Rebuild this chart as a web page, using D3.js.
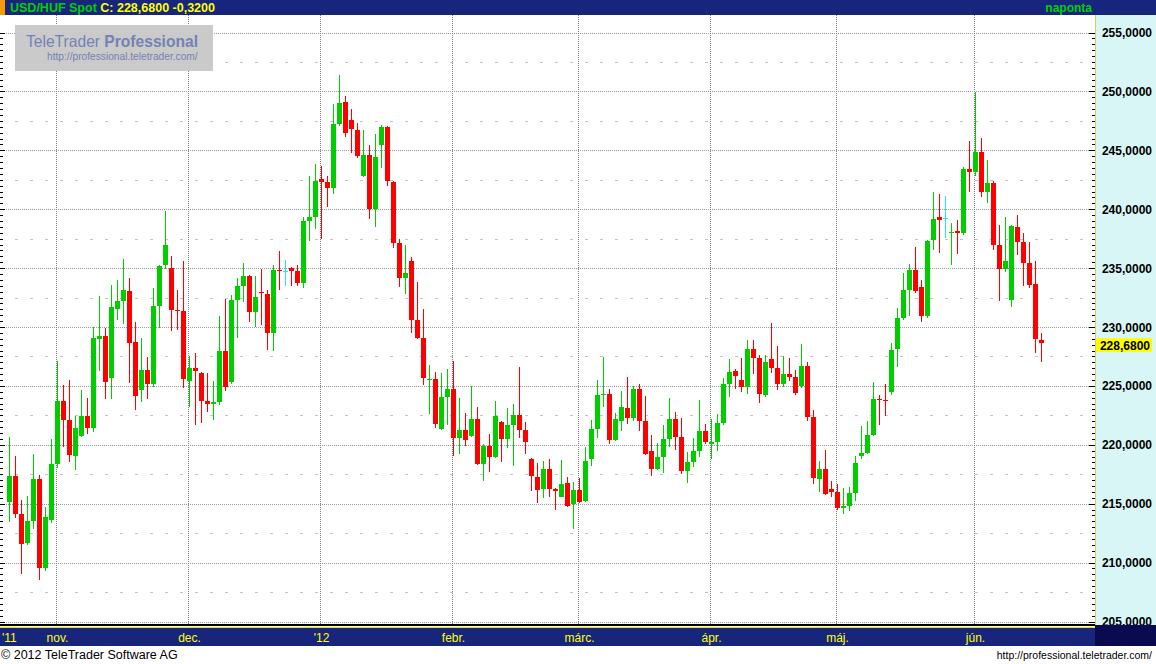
<!DOCTYPE html>
<html><head><meta charset="utf-8">
<script src="https://cdn.jsdelivr.net/npm/d3@7"></script>
<style>body{margin:0;background:#fff;overflow:hidden}svg{display:block}</style>
</head><body><svg id="c" width="1156" height="664"></svg>
<script>
// ---- data (USD/HUF daily OHLC, 2011-10-20 .. 2012-06-18, weekdays) ----
const firstDay = "2011-10-20", lastDay = "2012-06-18";
const open = [215.17,217.35,214.13,211.69,213.56,217.10,209.57,213.64,218.40,223.72,
222.11,219.07,220.77,222.45,221.45,229.01,229.24,225.70,231.53,232.21,
233.06,228.73,224.68,226.35,225.19,231.81,235.29,235.01,231.47,231.36,
225.44,226.52,226.10,223.72,223.49,223.66,227.96,225.36,232.32,233.51,
234.33,231.30,233.00,232.80,229.52,234.86,234.75,235.01,234.75,233.76,
239.02,239.36,242.56,242.31,241.82,247.26,249.10,247.57,246.72,242.84,
244.60,240.04,245.48,246.98,242.33,237.16,234.19,235.60,230.59,229.07,
225.53,225.59,221.37,224.08,224.74,220.60,221.26,220.77,222.19,218.40,
219.90,218.99,221.94,220.52,221.71,222.53,221.26,218.79,217.27,216.27,
217.95,216.25,215.59,216.76,215.00,216.16,215.26,218.82,221.37,224.25,
224.31,220.43,222.05,223.12,222.30,224.74,222.02,219.47,217.97,218.99,
220.52,222.19,220.66,217.80,218.57,219.50,221.17,220.09,220.26,221.88,
225.19,226.27,225.50,224.93,228.13,227.37,224.25,227.28,226.52,225.19,
226.01,225.76,225.02,226.69,222.36,217.12,217.95,216.25,215.99,214.66,
214.83,215.93,219.07,219.33,220.86,223.91,223.80,224.51,228.16,230.79,
233.17,234.84,233.40,230.96,237.41,239.34,239.25,238.00,238.15,238.00,
243.41,243.18,244.86,241.49,242.22,236.96,234.95,232.32,238.49,237.22,
235.43,233.65,228.90];
const high = [220.64,219.05,215.31,215.65,219.22,217.44,214.72,220.49,227.11,225.08,
225.50,222.45,224.65,223.97,229.97,232.63,229.92,233.57,233.99,235.77,
234.16,230.42,229.07,227.45,233.31,235.26,239.85,236.03,233.14,235.60,
227.54,227.79,226.18,226.10,225.42,230.93,232.38,232.72,234.16,235.43,
234.41,234.33,234.92,233.14,235.26,236.45,235.69,235.09,235.26,239.34,
242.82,243.84,243.67,242.82,248.93,251.39,249.61,248.51,247.32,246.72,
245.45,246.38,247.15,247.06,242.42,237.50,236.96,235.94,233.85,231.53,
226.77,226.18,226.10,226.43,227.11,223.97,222.70,224.99,223.21,220.07,
220.92,223.72,222.02,223.12,223.46,226.60,221.94,218.88,218.46,218.63,
218.79,216.30,218.71,217.27,216.84,217.18,219.81,222.11,225.50,227.43,
224.74,222.70,224.57,225.76,224.99,225.16,224.14,220.83,220.15,221.68,
223.97,222.78,222.28,219.39,220.58,223.80,221.77,222.19,222.62,225.67,
227.28,226.43,227.37,228.90,228.90,227.62,227.62,230.34,228.39,227.54,
227.37,226.35,228.56,227.03,222.95,218.63,219.56,216.93,216.67,216.33,
216.42,219.05,221.60,222.02,225.33,224.23,225.16,228.64,231.61,234.58,
235.35,236.79,233.99,237.39,241.46,241.29,241.12,238.83,239.08,243.58,
245.79,249.95,246.04,244.18,242.39,238.66,239.34,238.66,239.51,237.98,
237.22,235.60,229.49];
const low = [213.45,213.81,209.06,211.49,212.88,208.55,209.31,213.39,218.06,219.84,
218.57,217.89,220.69,220.94,221.11,226.29,223.91,223.91,230.59,230.26,
225.27,222.98,223.66,223.91,224.93,229.94,234.95,229.69,229.77,224.85,
223.23,221.71,221.88,222.81,222.13,223.40,224.59,225.19,229.09,232.15,
230.45,230.03,230.20,228.07,227.99,233.17,233.51,233.51,233.51,233.34,
237.33,238.35,237.50,240.21,241.32,247.09,246.15,244.80,244.37,242.76,
239.19,238.51,243.52,241.99,236.73,233.42,232.83,229.52,228.98,225.10,
222.64,221.45,221.28,221.71,219.07,219.24,219.92,220.69,218.31,216.95,
217.72,218.91,218.57,219.75,218.23,220.60,219.24,216.10,215.09,215.51,
215.59,214.49,215.59,214.75,212.88,215.09,215.17,218.23,220.60,223.23,
220.09,220.35,221.20,221.79,222.05,221.20,219.16,217.38,217.89,217.63,
219.84,219.58,217.55,216.78,218.14,218.99,220.09,218.82,219.50,221.71,
224.08,224.76,224.51,224.34,226.04,223.57,224.08,226.12,224.68,224.93,
225.44,224.25,224.85,222.05,216.70,216.02,215.76,215.59,214.49,214.15,
214.41,215.26,218.82,219.24,220.77,221.71,222.47,224.25,226.63,230.62,
230.96,232.91,230.45,230.79,236.56,236.31,237.58,235.29,236.22,237.83,
241.49,242.84,241.06,240.55,236.56,232.23,234.69,231.72,236.14,233.51,
233.34,227.82,227.05];
const close = [217.35,214.15,211.60,213.53,217.10,209.57,213.87,218.37,223.72,222.13,
219.16,221.43,222.45,221.45,229.07,229.24,225.36,231.70,232.21,233.14,
228.67,224.17,226.35,225.19,231.78,235.18,236.96,231.47,231.38,225.61,
226.52,226.29,223.74,223.49,223.66,227.96,224.93,232.29,233.48,234.33,
231.30,232.55,232.91,229.52,234.84,234.78,234.75,234.78,233.76,239.00,
239.34,242.39,242.33,241.82,247.23,249.02,246.49,246.83,244.54,244.60,
240.04,244.43,246.98,242.42,237.16,234.19,234.58,230.62,229.09,225.70,
225.59,221.79,224.06,224.74,220.60,221.26,220.43,222.19,218.40,219.90,
218.99,222.45,220.52,221.68,222.53,221.28,220.26,217.38,216.19,217.95,
216.27,216.10,216.67,214.83,216.16,215.17,218.63,221.34,224.23,224.31,
220.43,222.19,223.21,222.30,224.74,222.05,219.24,217.97,218.96,220.49,
222.19,220.69,217.80,218.54,219.47,221.17,220.26,220.24,221.85,225.16,
226.18,225.87,224.93,228.13,227.39,224.34,227.03,226.55,225.19,226.01,
225.78,224.42,226.69,222.39,217.21,217.95,215.85,216.02,214.66,214.83,
215.91,218.46,219.30,220.83,223.89,223.83,223.72,228.05,230.76,233.14,
234.84,233.08,230.96,237.30,239.17,239.11,239.25,238.06,238.00,243.41,
243.18,244.86,241.49,242.22,236.99,234.95,235.60,238.57,237.24,235.46,
233.59,229.00,228.68];
const yTicks = [205,210,215,220,225,230,235,240,245,250,255];
const monthStarts = ["2011-11-01","2011-12-01","2012-01-02","2012-02-01","2012-03-01","2012-04-02","2012-05-01","2012-06-01"];
const monthLabels = ["nov.","dec.","'12","febr.","márc.","ápr.","máj.","jún."];
const titleName = "USD/HUF Spot", titleQuote = "C: 228,6800 -0,3200", periodLabel = "naponta";
const lastLabel = "228,6800";

// ---- setup ----
const parse = d3.timeParse("%Y-%m-%d"), fmtKey = d3.timeFormat("%Y-%m-%d");
const dates = d3.timeDay.range(parse(firstDay), d3.timeDay.offset(parse(lastDay),1))
  .filter(d => d.getDay() !== 0 && d.getDay() !== 6).map(fmtKey);
const data = dates.map((d,i) => ({d, o:open[i], h:high[i], l:low[i], c:close[i]}));

const svg = d3.select("#c");
const FONT = "'Liberation Sans', Arial, sans-serif";
const NAVY = "#17267c", NAVY_D = "#0a0a50";
const PR = 1093, PT = 15, PB = 624;

const x = d3.scaleBand().domain(dates).range([6.5, 6.5 + dates.length*6]).paddingInner(1/6).paddingOuter(1/12);
const y = d3.scaleLinear().domain([205,255]).range([621.5, 32.5]);

svg.append("rect").attr("width",1156).attr("height",664).attr("fill","#fff");

const g = svg.append("g").attr("shape-rendering","crispEdges");

// minor gridlines (x.5 levels)
const halfLevels = d3.range(207.5, 255, 5);
g.selectAll(".hg2").data(halfLevels).join("line")
  .attr("x1",0).attr("x2",PR).attr("y1",d=>Math.round(y(d))+0.5).attr("y2",d=>Math.round(y(d))+0.5)
  .attr("stroke","#c4c4c4").attr("stroke-dasharray","3 12");
// major gridlines
g.selectAll(".hg").data(yTicks).join("line")
  .attr("x1",0).attr("x2",PR).attr("y1",d=>Math.round(y(d))+0.5).attr("y2",d=>Math.round(y(d))+0.5)
  .attr("stroke","#9a9a9a").attr("stroke-dasharray","1 1");
// month gridlines
g.selectAll(".vg").data(monthStarts).join("line")
  .attr("x1",d=>x(d)+1.5).attr("x2",d=>x(d)+1.5).attr("y1",PT).attr("y2",PB)
  .attr("stroke","#808080").attr("stroke-dasharray","1 1");

// logo
const logo = svg.append("g");
logo.append("rect").attr("x",15).attr("y",25).attr("width",198).attr("height",46).attr("fill","#cacaca");
const lt = logo.append("text").attr("x",26).attr("y",47).attr("font-family",FONT).attr("font-size",16.5).attr("fill","#7482b4")
  .attr("textLength",172).attr("lengthAdjust","spacingAndGlyphs");
lt.append("tspan").text("TeleTrader ");
lt.append("tspan").attr("font-weight","bold").text("Professional");
logo.append("text").attr("x",47).attr("y",60).attr("font-family",FONT).attr("font-size",10.2).attr("fill","#7482b4")
  .text("http://professional.teletrader.com/");

// axis ticks (left and right edges)
const tickVals = d3.range(205, 255.01, 0.5);
g.selectAll(".lt").data(tickVals).join("line")
  .attr("x1",0).attr("x2",d=>d%5===0?5:3).attr("y1",d=>Math.round(y(d))+0.5).attr("y2",d=>Math.round(y(d))+0.5)
  .attr("stroke","#000");
g.selectAll(".rt").data(tickVals).join("line")
  .attr("x1",d=>d%5===0?1089:1092).attr("x2",1095).attr("y1",d=>Math.round(y(d))+0.5).attr("y2",d=>Math.round(y(d))+0.5)
  .attr("stroke","#000");

// candles
const col = d => d.c > d.o ? "#00cc00" : (d.c < d.o ? "#ff0000" : "#22e8e8");
const cg = svg.append("g").attr("shape-rendering","crispEdges");
cg.selectAll(".wick").data(data).join("line")
  .attr("x1",d=>x(d.d)+2.5).attr("x2",d=>x(d.d)+2.5)
  .attr("y1",d=>Math.round(y(d.h))).attr("y2",d=>Math.round(y(d.l)))
  .attr("stroke",col);
cg.selectAll(".body").data(data).join("rect")
  .attr("x",d=>x(d.d)).attr("width",x.bandwidth())
  .attr("y",d=>Math.round(y(Math.max(d.o,d.c))))
  .attr("height",d=>Math.max(1, Math.round(y(Math.min(d.o,d.c))) - Math.round(y(Math.max(d.o,d.c)))))
  .attr("fill",col);

// right axis panel
svg.append("rect").attr("x",1095).attr("y",PT).attr("width",61).attr("height",PB-PT+1).attr("fill","#d8f6f6");
svg.append("line").attr("x1",1095.5).attr("x2",1095.5).attr("y1",PT).attr("y2",PB+1).attr("stroke","#d8cc5a").attr("shape-rendering","crispEdges");
svg.selectAll(".yl").data(yTicks).join("text")
  .attr("x",1152).attr("y",d=>y(d)+4.5).attr("text-anchor","end")
  .attr("font-family",FONT).attr("font-weight","bold").attr("font-size",12).attr("fill","#000")
  .text(d=>d3.format(".4f")(d).replace(".",","));
// last price marker
const lastY = y(close[close.length-1]);
svg.append("rect").attr("x",1096).attr("y",Math.round(lastY)-5).attr("width",56).attr("height",14).attr("fill","#ffff00");
svg.append("text").attr("x",1150).attr("y",Math.round(lastY)+6.5).attr("text-anchor","end")
  .attr("font-family",FONT).attr("font-weight","bold").attr("font-size",12).attr("fill","#000").text(lastLabel);

// top bar
svg.append("rect").attr("x",0).attr("y",0).attr("width",1156).attr("height",PT).attr("fill",NAVY);
svg.append("rect").attr("x",0).attr("y",0).attr("width",5).attr("height",PT).attr("fill","#f59a00");
const tt = svg.append("text").attr("x",10).attr("y",11.5).attr("font-family",FONT).attr("font-weight","bold").attr("font-size",12.5);
tt.append("tspan").attr("fill","#00d000").text(titleName + " ");
tt.append("tspan").attr("fill","#ffff00").text(titleQuote);
svg.append("text").attr("x",1092).attr("y",11.5).attr("text-anchor","end").attr("font-family",FONT).attr("font-weight","bold")
  .attr("font-size",12).attr("fill","#00d000").text(periodLabel);

// bottom time axis
const bg = svg.append("g").attr("shape-rendering","crispEdges");
bg.append("rect").attr("x",0).attr("y",PB).attr("width",1095).attr("height",2).attr("fill","#000");
bg.append("rect").attr("x",0).attr("y",PB+2).attr("width",1095).attr("height",1).attr("fill","#ffffff");
bg.append("rect").attr("x",0).attr("y",PB+3).attr("width",1095).attr("height",1).attr("fill","#e8e000");
bg.append("rect").attr("x",0).attr("y",PB+4).attr("width",1095).attr("height",18).attr("fill",NAVY);
bg.append("rect").attr("x",1095).attr("y",PB+1).attr("width",61).attr("height",21).attr("fill",NAVY_D);
const xl = svg.append("g").attr("font-family",FONT).attr("font-size",12).attr("fill","#ffff00");
xl.append("text").attr("x",2).attr("y",642).text("'11");
xl.selectAll(".ml").data(monthStarts).join("text")
  .attr("x",d=>x(d)+2.5).attr("y",642).attr("text-anchor","middle")
  .text((d,i)=>monthLabels[i]);

// footer
svg.append("text").attr("x",1).attr("y",659).attr("font-family",FONT).attr("font-size",12.5).attr("fill","#000")
  .text("© 2012 TeleTrader Software AG");
svg.append("text").attr("x",1152).attr("y",659).attr("text-anchor","end").attr("font-family",FONT).attr("font-size",10.5).attr("fill","#000")
  .text("http://professional.teletrader.com/");
</script></body></html>
